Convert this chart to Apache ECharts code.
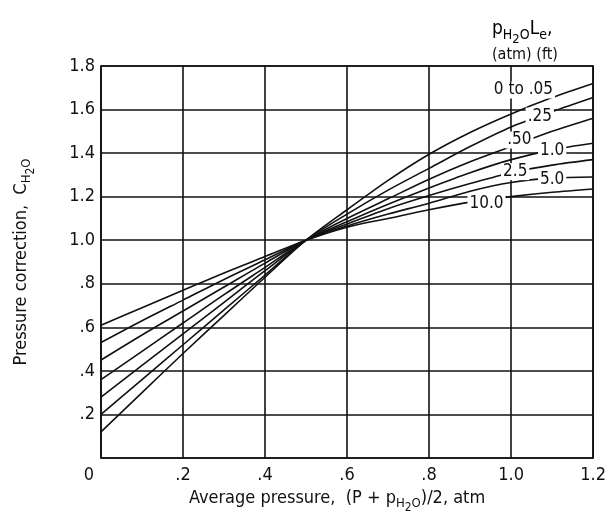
<!DOCTYPE html>
<html>
<head>
<meta charset="utf-8">
<script src="https://cdn.jsdelivr.net/npm/echarts@6/dist/echarts.min.js"></script>
<style>
  html, body { margin: 0; background: #fff; }
  #chart { width: 609px; height: 519px; }
</style>
</head>
<body>
<div id="chart"></div>
<script>
/**
 * Chart data: pressure correction for water vapour against average pressure
 */
const xValues = [0, 0.1, 0.2, 0.3, 0.4, 0.5, 0.6, 0.7, 0.8, 0.9, 1.0, 1.1, 1.2];

const curve005 = [0.12, 0.30, 0.48, 0.655, 0.83, 1.0, 1.14, 1.275, 1.395, 1.495, 1.58, 1.655, 1.72];
const curve025 = [0.20, 0.36, 0.52, 0.68, 0.84, 1.0, 1.12, 1.23, 1.33, 1.43, 1.52, 1.59, 1.655];
const curve050 = [0.28, 0.425, 0.57, 0.715, 0.86, 1.0, 1.10, 1.19, 1.28, 1.36, 1.43, 1.50, 1.56];
const curve10 = [0.36, 0.49, 0.62, 0.75, 0.875, 1.0, 1.085, 1.165, 1.24, 1.31, 1.37, 1.415, 1.445];
const curve25 = [0.45, 0.565, 0.675, 0.785, 0.895, 1.0, 1.075, 1.145, 1.205, 1.26, 1.31, 1.345, 1.37];
const curve50 = [0.53, 0.63, 0.725, 0.82, 0.91, 1.0, 1.065, 1.12, 1.17, 1.225, 1.265, 1.285, 1.29];
const curve100 = [0.61, 0.69, 0.77, 0.85, 0.925, 1.0, 1.06, 1.10, 1.14, 1.175, 1.20, 1.22, 1.235];

const curveNames = ['0 to .05', '.25', '.50', '1.0', '2.5', '5.0', '10.0'];
const curves = [curve005, curve025, curve050, curve10, curve25, curve50, curve100];

// where each curve's label sits (data coordinates)
const labelPos = [[1.03, 1.69], [1.07, 1.57], [1.02, 1.46], [1.10, 1.41], [1.01, 1.315], [1.10, 1.28], [0.94, 1.17]];

const FONT = "'DejaVu Sans Condensed', 'Liberation Sans Narrow', 'DejaVu Sans', sans-serif";
const INK = '#111';

let chart = echarts.init(document.getElementById('chart'));

function tickText(v) {
    if (v === 0) return '';
    if (v >= 1) return v.toFixed(1);
    return '.' + Math.round(v * 10);
}

// rich styles for sub/sub-sub scripts
function subRich(size) {
    return {
        m: { fontSize: size, fontFamily: FONT, color: INK, lineHeight: size + 3, verticalAlign: 'top' },
        s: { fontSize: size - 5, fontFamily: FONT, color: INK, lineHeight: size - 3, verticalAlign: 'top', padding: [8, 0, 0, 0] },
        ss: { fontSize: size - 6, fontFamily: FONT, color: INK, lineHeight: size - 5, verticalAlign: 'top', padding: [13, 0, 0, 0] }
    };
}

let lineSeries = curves.map(function (vals, i) {
    return {
        name: curveNames[i],
        type: 'line',
        data: xValues.map(function (x, j) { return [x, vals[j]]; }),
        smooth: 0.3,
        showSymbol: false,
        lineStyle: { color: INK, width: 1.6 },
        z: 3
    };
});

let labelSeries = {
    type: 'scatter',
    symbolSize: 0,
    z: 10,
    itemStyle: { opacity: 1 },
    data: labelPos.map(function (p, i) { return { name: curveNames[i], value: p }; }),
    label: {
        show: true,
        position: 'inside',
        formatter: '{b}',
        fontSize: 17,
        fontFamily: FONT,
        color: INK,
        opacity: 1,
        backgroundColor: '#fff',
        padding: [0, 2]
    }
};

let option = {
    animation: false,
    backgroundColor: '#fff',
    grid: { left: 101, right: 10, top: 66, bottom: 61, show: true, borderColor: INK, borderWidth: 1.7 },
    xAxis: {
        type: 'value',
        min: 0,
        max: 1.2,
        interval: 0.2,
        axisLine: { show: false },
        axisTick: { show: false },
        splitLine: { lineStyle: { color: INK, width: 1.6 } },
        axisLabel: {
            fontSize: 18,
            fontFamily: FONT,
            color: INK,
            margin: 8,
            formatter: function (v) { return v === 0 ? '{z|0}' : tickText(v); },
            rich: { z: { fontSize: 18, fontFamily: FONT, color: INK, padding: [0, 24, 0, 0] } }
        },
        name: '{m|Average pressure,  (P + p}{s|H}{ss|2}{s|O}{m|)/2, atm}',
        nameLocation: 'middle',
        nameGap: 28,
        nameTextStyle: { rich: subRich(18), padding: [0, 20, 0, 0] }
    },
    yAxis: {
        type: 'value',
        min: 0,
        max: 1.8,
        interval: 0.2,
        axisLine: { show: false },
        axisTick: { show: false },
        splitLine: { lineStyle: { color: INK, width: 1.6 } },
        axisLabel: { fontSize: 18, fontFamily: FONT, color: INK, margin: 6, formatter: tickText },
        name: '{m|Pressure correction,  C}{s|H}{ss|2}{s|O}',
        nameLocation: 'middle',
        nameRotate: 90,
        nameGap: 68,
        nameTextStyle: { rich: subRich(18) }
    },
    graphic: [
        {
            type: 'text',
            left: 492,
            top: 20,
            style: { text: '{m|p}{s|H}{ss|2}{s|O}{m|L}{s|e}{m|,}', rich: subRich(19) }
        },
        {
            type: 'text',
            left: 492,
            top: 47,
            style: { text: '(atm) (ft)', fontSize: 16, fontFamily: FONT, fill: INK }
        }
    ],
    series: lineSeries.concat([labelSeries])
};

chart.setOption(option);
</script>
</body>
</html>
